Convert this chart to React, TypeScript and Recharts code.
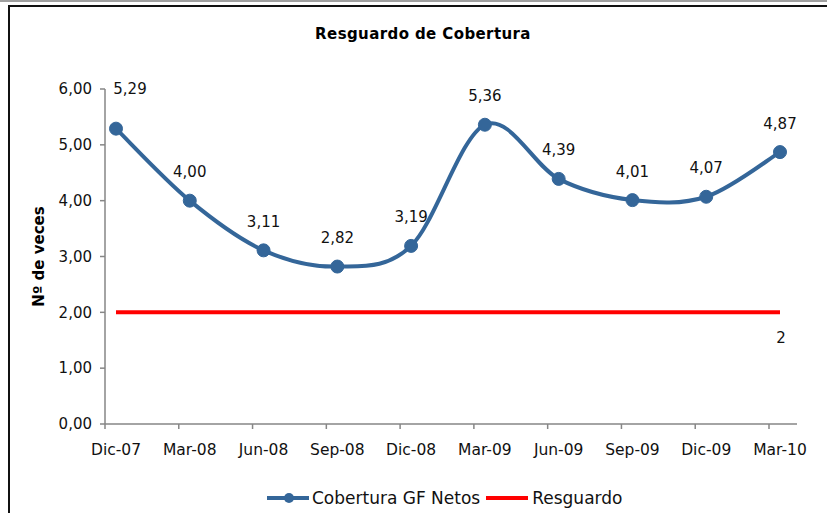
import { LineChart, Line, XAxis, YAxis, Legend, LabelList } from "recharts";

const periods = ["Dic-07", "Mar-08", "Jun-08", "Sep-08", "Dic-08", "Mar-09", "Jun-09", "Sep-09", "Dic-09", "Mar-10"];
const cobertura = [5.29, 4.0, 3.11, 2.82, 3.19, 5.36, 4.39, 4.01, 4.07, 4.87];
const resguardo = [2, 2, 2, 2, 2, 2, 2, 2, 2, 2];
const yTicks = [0, 1, 2, 3, 4, 5, 6];

const data = periods.map((periodo, i) => ({
  periodo,
  cobertura: cobertura[i],
  resguardo: resguardo[i],
}));

const BLUE = "#346699";
const RED = "#ff0000";
const AXIS = "#868686";
const FONT = "'DejaVu Sans', sans-serif";

const fmt = (v: number) => v.toFixed(2).replace(".", ",");

// Excel-like smoothed line (cardinal / catmull-rom spline)
const excelSmooth = (context: any) => {
  let pts: [number, number][] = [];
  let line = NaN;
  const k = 1 / 6;
  return {
    areaStart() { line = 0; },
    areaEnd() { line = NaN; },
    lineStart() { pts = []; },
    lineEnd() {
      const n = pts.length;
      if (n > 0) {
        if (line) context.lineTo(pts[0][0], pts[0][1]);
        else context.moveTo(pts[0][0], pts[0][1]);
        for (let i = 0; i < n - 1; i++) {
          const p0 = pts[Math.max(i - 1, 0)];
          const p1 = pts[i];
          const p2 = pts[i + 1];
          const p3 = pts[Math.min(i + 2, n - 1)];
          context.bezierCurveTo(
            p1[0] + (p2[0] - p0[0]) * k,
            p1[1] + (p2[1] - p0[1]) * k,
            p2[0] - (p3[0] - p1[0]) * k,
            p2[1] - (p3[1] - p1[1]) * k,
            p2[0],
            p2[1]
          );
        }
      }
      if (line || (line !== 0 && n === 1)) context.closePath();
      line = 1 - line;
    },
    point(x: number, y: number) { pts.push([+x, +y]); },
  };
};

const XTick = ({ x, y, payload }: any) => (
  <g>
    <line x1={x - 11} x2={x - 11} y1={y - 5} y2={y} stroke={AXIS} strokeWidth={1.5} />
    <text x={x} y={y + 26} textAnchor="middle" fontSize={15.5} fontFamily={FONT} fill="#111">
      {payload.value}
    </text>
  </g>
);

const CoberturaLabel = (props: any) => {
  const { value, index } = props;
  const x = props.x ?? props.viewBox?.x;
  const y = props.y ?? props.viewBox?.y;
  const first = index === 0;
  return (
    <text
      x={x + (first ? 14 : 0)}
      y={y + (first ? -39 : -28)}
      textAnchor="middle"
      dominantBaseline="middle"
      fontSize={15}
      fontFamily={FONT}
      fill="#111"
    >
      {fmt(Number(value))}
    </text>
  );
};

const ResguardoLabel = (props: any) => {
  const { value, index } = props;
  if (index !== data.length - 1) return null;
  const x = props.x ?? props.viewBox?.x;
  const y = props.y ?? props.viewBox?.y;
  return (
    <text x={x + 1} y={y + 26} textAnchor="middle" dominantBaseline="middle" fontSize={15} fontFamily={FONT} fill="#111">
      {String(value)}
    </text>
  );
};

const YLabel = ({ viewBox }: any) => {
  const cx = viewBox.x + 39;
  const cy = viewBox.y + viewBox.height / 2;
  return (
    <text
      x={cx}
      y={cy}
      transform={`rotate(-90, ${cx}, ${cy})`}
      textAnchor="middle"
      dominantBaseline="middle"
      fontSize={15}
      fontWeight="bold"
      fontFamily={FONT}
      fill="#000"
    >
      Nº de veces
    </text>
  );
};

const LegendContent = () => (
  <div style={{ display: "flex", alignItems: "center", fontFamily: FONT, fontSize: 17, color: "#111", whiteSpace: "nowrap" }}>
    <svg width={42} height={14} style={{ marginRight: 3 }}>
      <line x1={0} x2={42} y1={7} y2={7} stroke={BLUE} strokeWidth={4} />
      <circle cx={22} cy={7} r={5} fill={BLUE} />
    </svg>
    <span>Cobertura GF Netos</span>
    <svg width={42} height={14} style={{ marginLeft: 6, marginRight: 4 }}>
      <line x1={0} x2={42} y1={7} y2={7} stroke={RED} strokeWidth={4} />
    </svg>
    <span>Resguardo</span>
  </div>
);

export default function App() {
  return (
    <div style={{ position: "absolute", left: 0, top: 0, width: 827, height: 513, overflow: "hidden", background: "#fff" }}>
      <div style={{ position: "absolute", left: 0, top: 0, width: 827, height: 2, background: "#a0a0a0" }} />
      <div
        style={{
          position: "absolute",
          left: 8,
          top: 5,
          width: 900,
          height: 600,
          border: "2px solid #111",
          boxSizing: "border-box",
        }}
      />
      <div
        style={{
          position: "absolute",
          left: 423,
          top: 25,
          transform: "translateX(-50%)",
          fontFamily: FONT,
          fontWeight: "bold",
          fontSize: 15,
          letterSpacing: 0.4,
          lineHeight: "18px",
          whiteSpace: "nowrap",
          color: "#000",
        }}
      >
        Resguardo de Cobertura
      </div>
      <div style={{ position: "absolute", left: 0, top: 0 }}>
        <LineChart width={827} height={513} data={data} margin={{ top: 89, right: 30, left: 0, bottom: 49 }}>
          <XAxis
            dataKey="periodo"
            scale="point"
            padding={{ left: 11, right: 17 }}
            height={40}
            stroke={AXIS}
            strokeWidth={1.5}
            tickLine={false}
            tickSize={5}
            tickMargin={0}
            interval={0}
            tick={<XTick />}
          />
          <YAxis
            width={105}
            domain={[0, 6]}
            ticks={yTicks}
            tickFormatter={fmt}
            stroke={AXIS}
            strokeWidth={1.5}
            tickSize={5}
            tickMargin={8}
            tick={{ fontSize: 15, fontFamily: FONT, fill: "#111" }}
            label={<YLabel />}
          />
          <Legend
            verticalAlign="middle"
            layout="horizontal"
            content={<LegendContent />}
            wrapperStyle={{ top: 488, left: 267, width: "auto" }}
          />
          <Line
            dataKey="resguardo"
            name="Resguardo"
            type="linear"
            stroke={RED}
            strokeWidth={4}
            dot={false}
            activeDot={false}
            isAnimationActive={false}
          >
            <LabelList dataKey="resguardo" content={<ResguardoLabel />} />
          </Line>
          <Line
            dataKey="cobertura"
            name="Cobertura GF Netos"
            type={excelSmooth as any}
            stroke={BLUE}
            strokeWidth={4}
            dot={{ r: 6.5, fill: BLUE, stroke: BLUE, strokeWidth: 1 }}
            activeDot={false}
            isAnimationActive={false}
          >
            <LabelList dataKey="cobertura" content={<CoberturaLabel />} />
          </Line>
        </LineChart>
      </div>
    </div>
  );
}
